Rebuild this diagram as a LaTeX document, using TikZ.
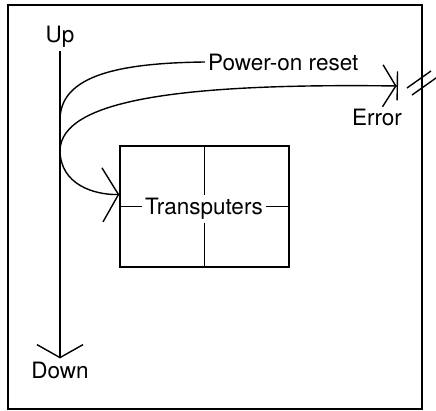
\documentclass[tikz,border=0pt]{standalone}
\usepackage{fontspec}
\setmainfont{TeX Gyre Heros}
\usetikzlibrary{arrows.meta,positioning}

\begin{document}
\begin{tikzpicture}[
  x=1pt, y=-1pt,
  font=\fontsize{22.5}{26}\selectfont,
  label/.style={inner sep=3pt},
  wire/.style={line width=1.4pt},
  feed/.style={wire, -{Straight Barb[length=13pt, width=46pt, line width=1.4pt]}},
  push/.style={wire, -{Straight Barb[length=16pt, width=54pt, line width=1.4pt]}},
  halt/.style={wire, -{Straight Barb[length=13pt, width=42pt, line width=1.4pt] Bar[width=29pt, line width=1.4pt]}},
  frame/.style={line width=2pt}
]
\useasboundingbox (0,0) rectangle (436,411);
\draw[frame] (8,5) rectangle (422,409);

\node[label] (up) at (60,37) {Up};
\node[label] (down) at (60,370) {Down};
\coordinate (tap) at (60,120);
\coordinate (fork) at (60,150);
\node[label, anchor=west] (reset) at (205,62) {Power-on reset};
\node[label] (error) at (377,117) {Error};
\coordinate (stop) at (398,86);

\node[draw, wire, minimum width=169pt, minimum height=121pt] (array) at (204.5,206.5) {};
\node[label] (tp) at (204,209) {Transputers};

\draw[feed] (up) -- (down);
\draw[wire] (tap) .. controls (60,75) and (120,63) .. (reset.west);
\draw[halt] (fork) .. controls (62,100) and (180,83) .. (stop);
\draw[push] (fork) .. controls (60,185) and (95,195) .. ([yshift=12pt]array.west);

\draw[wire] (array.north) -- (array.north |- tp.north);
\draw[wire] (array.south) -- (array.south |- tp.south);
\draw[wire] (array.west) -- (array.west -| tp.west);
\draw[wire] (array.east) -- (array.east -| tp.east);

% break marks on the right edge
\draw[wire] (407,88) -- (431,71);
\draw[wire] (412,95) -- (436,78);
\end{tikzpicture}
\end{document}
